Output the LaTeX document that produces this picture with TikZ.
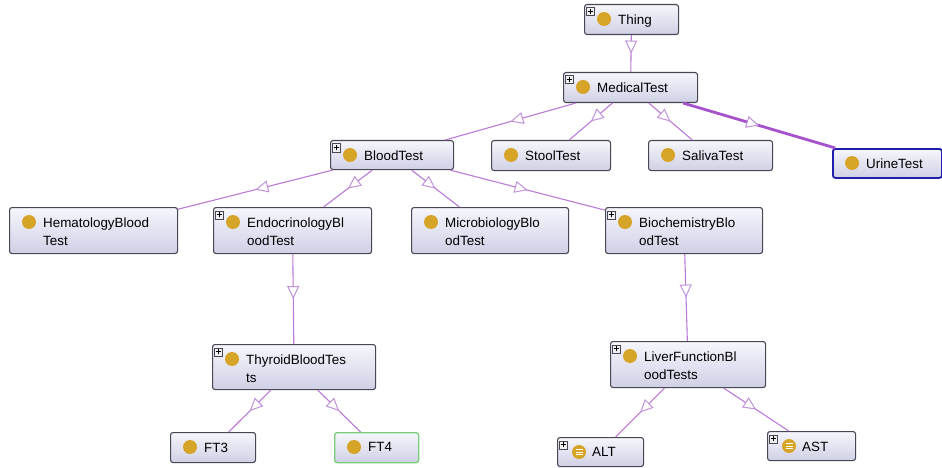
\documentclass[tikz,border=0pt]{standalone}
\usepackage{fontspec}
\setmainfont{Liberation Sans}
\usetikzlibrary{arrows.meta,decorations.markings}

\definecolor{edgecol}{RGB}{186,122,214}
\definecolor{edgedark}{RGB}{166,82,204}
\definecolor{tipcol}{RGB}{192,146,218}
\definecolor{boxline}{RGB}{72,72,84}
\definecolor{boxtop}{RGB}{246,246,252}
\definecolor{boxbot}{RGB}{208,208,230}
\definecolor{dotcol}{RGB}{214,164,38}
\definecolor{selblue}{RGB}{30,30,170}
\definecolor{selgreen}{RGB}{120,206,120}

\tikzset{
  clsbox/.style={draw=boxline, line width=1.1pt, rounded corners=2.5pt,
    top color=boxtop, bottom color=boxbot, inner sep=0pt},
  clstext/.style={inner sep=0pt, align=left, font=\fontsize{13.4}{18}\selectfont},
  midtip/.style={decoration={markings, mark=at position 0.5 with
      {\arrow[tipcol]{Triangle[open, fill=white, length=13pt, width=12pt, line width=1pt]}}}},
  isa/.style={draw=edgecol, line width=1.1pt, midtip, postaction={decorate}},
  isabold/.style={draw=edgedark, line width=2.8pt},
  plusbox/.style={draw=boxline, fill=white!88!gray, line width=0.6pt, inner sep=0pt,
    minimum size=8pt, anchor=north west}
}

% class box: name, x, y, width, height, extra style, label
\newcommand\owlcls[7]{%
  \node[clsbox,#6,minimum width=#4pt,minimum height=#5pt,anchor=north west] (#1) at (#2,#3) {};
  \fill[dotcol] ([xshift=20pt,yshift=-15pt]#1.north west) circle (7pt);
  \node[clstext,anchor=north west] (#1-t) at ([xshift=34pt,yshift=-10.5pt]#1.north west) {#7};
}
% expand marker in the top left corner
\newcommand\owlplus[1]{%
  \node[plusbox] (#1-p) at ([xshift=2pt,yshift=-3.5pt]#1.north west) {};
  \draw[line width=0.7pt] ([xshift=-2.6pt]#1-p.center) -- ([xshift=2.6pt]#1-p.center)
    ([yshift=-2.6pt]#1-p.center) -- ([yshift=2.6pt]#1-p.center);
}
% individual box: name, x, y, width, height, extra style, label
\newcommand\owlind[7]{%
  \node[clsbox,#6,minimum width=#4pt,minimum height=#5pt,anchor=north west] (#1) at (#2,#3) {};
  \coordinate (#1-d) at ([xshift=22pt,yshift=-15pt]#1.north west);
  \fill[dotcol] (#1-d) circle (7pt);
  \draw[white, line width=1pt] ([xshift=-3.5pt,yshift=2.6pt]#1-d) -- ++(7pt,0)
    ([xshift=-3.5pt]#1-d) -- ++(7pt,0) ([xshift=-3.5pt,yshift=-2.6pt]#1-d) -- ++(7pt,0);
  \node[clstext,anchor=north west] (#1-t) at ([xshift=35pt,yshift=-10.5pt]#1.north west) {#7};
}

\begin{document}
\begin{tikzpicture}[x=1pt,y=-1pt]
\useasboundingbox[fill=white] (0,0) rectangle (942,468);

\owlcls{thing}{584}{4}{94}{30}{}{Thing}
\owlcls{medical}{563}{72}{134}{30}{}{MedicalTest}
\owlcls{blood}{330}{140}{123}{29}{}{BloodTest}
\owlcls{stool}{491}{140}{119}{30}{}{StoolTest}
\owlcls{saliva}{648}{140}{124}{30}{}{SalivaTest}
\owlcls{urine}{832}{148}{109}{29}{draw=selblue,line width=1.8pt}{UrineTest}
\owlcls{hema}{9}{207}{168}{46}{}{HematologyBlood\\Test}
\owlcls{endo}{213}{207}{158}{46}{}{EndocrinologyBl\\oodTest}
\owlcls{micro}{411}{207}{157}{46}{}{MicrobiologyBlo\\odTest}
\owlcls{bio}{605}{207}{157}{46}{}{BiochemistryBlo\\odTest}
\owlcls{thyroid}{212}{344}{163}{45}{}{ThyroidBloodTes\\ts}
\owlcls{liver}{610}{341}{155}{46}{}{LiverFunctionBl\\oodTests}
\owlcls{ftthree}{170}{432}{85}{30}{}{FT3}
\owlcls{ftfour}{334}{432}{84}{30}{draw=selgreen,line width=1.3pt}{FT4}
\owlind{alt}{557}{437}{86}{29}{}{ALT}
\owlind{ast}{767}{431}{88}{29}{}{AST}

\owlplus{thing}
\owlplus{medical}
\owlplus{blood}
\owlplus{endo}
\owlplus{bio}
\owlplus{thyroid}
\owlplus{liver}
\owlplus{alt}
\owlplus{ast}

% subclass links, parent to child
\path[isa] (thing) -- (medical);
\path[isa] (medical) -- (blood);
\path[isa] (medical) -- (stool);
\path[isa] (medical) -- (saliva);
\draw[isabold] (medical) -- (urine);
\path[midtip, decorate] (medical) -- (urine);
\path[isa] (blood) -- (hema);
\path[isa] (blood) -- (endo);
\path[isa] (blood) -- (micro);
\path[isa] (blood) -- (bio);
\path[isa] (endo) -- (thyroid);
\path[isa] (bio) -- (liver);
\path[isa] (thyroid) -- (ftthree);
\path[isa] (thyroid) -- (ftfour);

% instance links
\path[isa] (liver) -- (alt);
\path[isa] (liver) -- (ast);
\end{tikzpicture}
\end{document}
